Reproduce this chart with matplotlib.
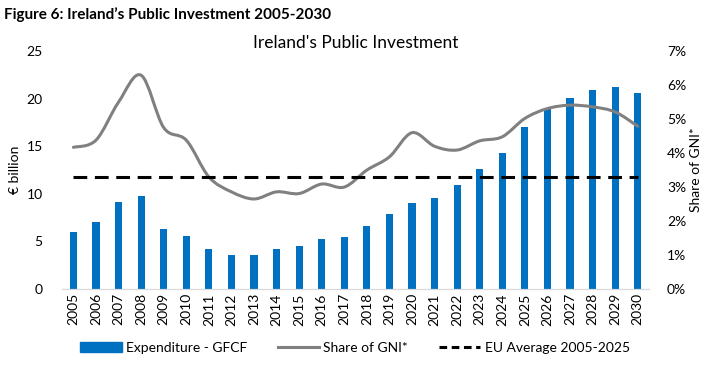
import numpy as np
import matplotlib
matplotlib.use('Agg')
import matplotlib.pyplot as plt
from matplotlib.path import Path
from matplotlib.patches import PathPatch
from matplotlib.lines import Line2D
from matplotlib.patches import Patch

# ========== data ==========
years = [str(y) for y in range(2005, 2031)]
expenditure = [6.0, 7.0, 9.1, 9.8, 6.3, 5.6, 4.2, 3.6, 3.6, 4.2, 4.5, 5.3, 5.5,
               6.6, 7.9, 9.0, 9.6, 10.9, 12.6, 14.3, 17.0, 18.9, 20.1, 20.9, 21.2, 20.6]
share_gni = [4.17, 4.38, 5.5, 6.29, 4.75, 4.38, 3.3, 2.86, 2.65, 2.86, 2.81, 3.09, 3.0,
             3.5, 3.89, 4.6, 4.2, 4.09, 4.36, 4.48, 5.02, 5.31, 5.41, 5.36, 5.21, 4.79]
eu_average = [3.3] * len(years)

plt.rcParams['font.family'] = ['Lato', 'DejaVu Sans']

BLUE = '#0070C0'
GREY = '#808080'


def smooth_path(x, y):
    # Excel-style smoothed line: Catmull-Rom segments as cubic Bezier curves
    x = np.asarray(x, float)
    y = np.asarray(y, float)
    verts = [(x[0], y[0])]
    codes = [Path.MOVETO]
    n = len(x)
    for i in range(n - 1):
        p0 = (x[max(i - 1, 0)], y[max(i - 1, 0)])
        p1 = (x[i], y[i])
        p2 = (x[i + 1], y[i + 1])
        p3 = (x[min(i + 2, n - 1)], y[min(i + 2, n - 1)])
        c1 = (p1[0] + (p2[0] - p0[0]) / 6, p1[1] + (p2[1] - p0[1]) / 6)
        c2 = (p2[0] - (p3[0] - p1[0]) / 6, p2[1] - (p3[1] - p1[1]) / 6)
        verts += [c1, c2, p2]
        codes += [Path.CURVE4] * 3
    return Path(verts, codes)


fig = plt.figure(figsize=(7.14, 3.73), dpi=100)
ax = fig.add_axes([0.087, 0.225, 0.822, 0.638])
ax2 = ax.twinx()

x = np.arange(len(years))
ax.bar(x, expenditure, width=0.32, color=BLUE, zorder=2)
ax.set_xlim(-0.5, len(years) - 0.5)
ax.set_ylim(0, 25)
ax.set_yticks(range(0, 26, 5))
ax.set_xticks(x)
ax.set_xticklabels(years, rotation=90, fontsize=10)
ax.tick_params(axis='y', length=0, pad=14, labelsize=10)
ax.tick_params(axis='x', length=0, pad=3)
ax.set_ylabel('€ billion', fontsize=10, labelpad=4)

ax2.add_patch(PathPatch(smooth_path(x, share_gni), fill=False, edgecolor=GREY,
                        lw=2.2, zorder=3, capstyle='round'))
ax2.plot(x, eu_average, color='black', lw=2.2, dashes=(4.5, 2.5), zorder=4)
ax2.set_ylim(0, 7)
ax2.set_yticks(range(0, 8))
ax2.set_yticklabels([f'{v}%' for v in range(0, 8)])
ax2.tick_params(axis='y', length=0, pad=13, labelsize=10)
ax2.set_ylabel('Share of GNI*', fontsize=10, labelpad=3)

for a in (ax, ax2):
    for s in ('top', 'left', 'right'):
        a.spines[s].set_visible(False)
    a.spines['bottom'].set_color('#D9D9D9')

ax.set_title("Ireland's Public Investment", fontsize=12.5, pad=-3)
fig.text(0.006, 0.962, 'Figure 6: Ireland\u2019s Public Investment 2005-2030',
         fontsize=11, fontweight='bold', va='center')

handles = [Patch(color=BLUE),
           Line2D([], [], color=GREY, lw=2.2),
           Line2D([], [], color='black', lw=2.2, dashes=(2.5, 1.5))]
labels = ['Expenditure - GFCF', 'Share of GNI*', 'EU Average 2005-2025']
fig.legend(handles, labels, loc='center', bbox_to_anchor=(0.497, 0.067), ncol=3,
           frameon=False, fontsize=10, handlelength=3.0, handleheight=0.7,
           columnspacing=2.2, handletextpad=0.3)

fig.savefig('out.png', dpi=100)
